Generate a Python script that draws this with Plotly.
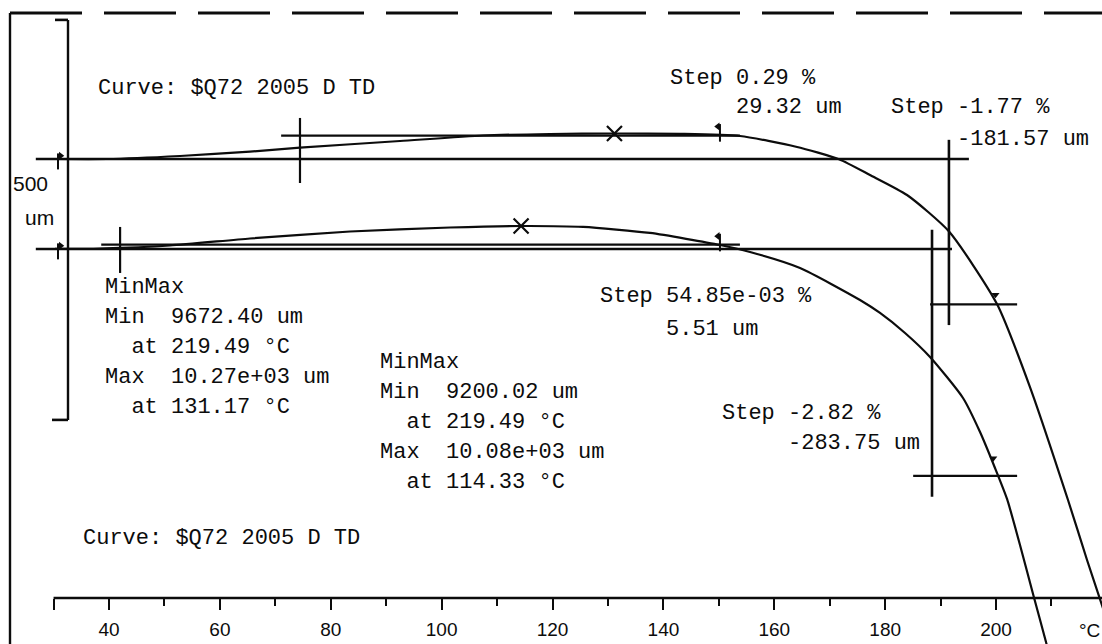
import plotly.graph_objects as go

W, H = 1102, 644

# ---------------- data (temperature in degC, dimension change in um) -------------
upper_T = [30.26, 39.64, 52.81, 65.43, 74.45, 92.49, 107.46, 119.54, 131.17, 142.99,
           153.82, 163.92, 171.67, 177.26, 183.94, 191.52, 200.17, 206.12, 212.98,
           216.41, 219.49]
upper_um = [10238.1, 10238.1, 10241.9, 10247.3, 10252.3, 10260.6, 10267.5, 10269.4,
            10270.0, 10269.6, 10266.9, 10253.5, 10237.8, 10218.1, 10193.1, 10147.5,
            10056.9, 9953.1, 9811.9, 9736.9, 9672.4]

lower_T = [30.26, 38.38, 51.00, 65.43, 83.47, 101.51, 114.33, 125.50, 137.58, 150.21,
           155.62, 164.64, 175.46, 179.07, 183.58, 188.09, 194.04, 197.11, 199.81,
           201.98, 204.32, 206.67, 209.01, 214.0, 217.0, 219.49]
lower_um = [10051.3, 10051.9, 10055.6, 10064.4, 10073.1, 10078.1, 10080.0, 10078.8,
            10071.3, 10056.3, 10047.5, 10027.5, 9987.5, 9971.3, 9946.3, 9916.3, 9865.0,
            9822.5, 9777.5, 9738.8, 9681.3, 9620.0, 9560.0, 9420.0, 9320.0, 9200.02]
lower_offset = 74.375          # display shift of the lower curve (um)

curve_name = "$Q72 2005 D TD"
upper_min = (219.49, 9672.40)
upper_max = (131.17, 10270.0)
lower_min = (219.49, 9200.02)
lower_max = (114.33, 10080.0)

# step analyses
upper_baseline = 10238.1
lower_baseline = 10051.3
upper_step1 = dict(cross=74.45, flag=150.2, um=29.32, pct="0.29")
lower_step1 = dict(cross=42.0, flag=150.2, um=5.51, pct="54.85e-03")
upper_step2 = dict(vline=191.5, flag=200.2, um=-181.57, pct="-1.77")
lower_step2 = dict(vline=188.45, flag=199.8, um=-283.75, pct="-2.82")
scale_bar_um = 500

x_ticks = [30, 40, 60, 80, 100, 120, 140, 160, 180, 200]
x_tick_text = ["", "40", "60", "80", "100", "120", "140", "160", "180", "200"]
x_minor = [50, 70, 90, 110, 130, 150, 170, 190, 210]

# ---------------- scales ---------------------------------------------------------
X_RANGE = [20.34, 219.11]
Y_RANGE = [9631.875, 10436.875]
AXIS_POS = 1 - 598 / H
INK = "#0c0c0c"
MONO = "Liberation Mono, Courier New, monospace"
SANS = "Liberation Sans, Arial, sans-serif"


def paper(px, py):
    return px / W, 1 - py / H


fig = go.Figure()

fig.add_trace(go.Scatter(x=upper_T, y=upper_um, mode="lines",
                         line=dict(color=INK, width=2.2, shape="spline", smoothing=0.6),
                         hoverinfo="skip"))
fig.add_trace(go.Scatter(x=lower_T, y=[v + lower_offset for v in lower_um], mode="lines",
                         line=dict(color=INK, width=2.2, shape="spline", smoothing=0.6),
                         hoverinfo="skip"))

# max markers
fig.add_trace(go.Scatter(x=[upper_max[0], lower_max[0]],
                         y=[upper_max[1], lower_max[1] + lower_offset],
                         mode="markers",
                         marker=dict(symbol="x-thin", size=15, line=dict(width=2.2, color=INK)),
                         hoverinfo="skip"))

shapes = []


def seg(x0, y0, x1, y1, w=2.2, xref="x", yref="y", dash=None):
    d = dict(type="line", x0=x0, y0=y0, x1=x1, y1=y1, xref=xref, yref=yref,
             line=dict(color=INK, width=w))
    if dash:
        d["line"]["dash"] = dash
    shapes.append(d)


def interp(T, U, t):
    for i in range(len(T) - 1):
        if T[i] <= t <= T[i + 1]:
            f = (t - T[i]) / (T[i + 1] - T[i])
            return U[i] + f * (U[i + 1] - U[i])
    return U[-1]


flag_x, flag_y, flag_sym = [], [], []

for base, off, s1, s2, T, U, base_end in [
        (upper_baseline, 0.0, upper_step1, upper_step2, upper_T, upper_um, 3.6),
        (lower_baseline, lower_offset, lower_step1, lower_step2, lower_T, lower_um, 3.6)]:
    b = base + off
    seg(26.8, b, s2["vline"] + base_end, b, w=2.6)
    lvl = b + s1["um"]
    seg(s1["cross"] - 3.4, lvl, s1["flag"] + 3.6, lvl, w=2.2)
    seg(s1["cross"], lvl + 22, s1["cross"], b - 30, w=2.2)
    lvl2 = b + s2["um"]
    seg(s2["vline"], b + 24, s2["vline"], lvl2 - 26, w=2.6)
    seg(s2["vline"] - 3.4, lvl2, 203.8, lvl2, w=2.2)
    seg(30.8, b + 7, 30.8, b - 13, w=2)
    flag_x.append(31.3); flag_y.append(b + 4); flag_sym.append("triangle-right")
    cy = interp(T, U, s1["flag"]) + off
    seg(s1["flag"], cy + 14, s1["flag"], cy - 8, w=2)
    flag_x.append(s1["flag"] - 0.4); flag_y.append(cy + 11); flag_sym.append("triangle-left")
    cy2 = interp(T, U, s2["flag"]) + off
    flag_x.append(s2["flag"] - 0.3); flag_y.append(cy2 + 12); flag_sym.append("triangle-down")

fig.add_trace(go.Scatter(x=flag_x, y=flag_y, mode="markers",
                         marker=dict(symbol=flag_sym, size=7, color=INK),
                         hoverinfo="skip"))

# x axis line
shapes.append(dict(type="line", xref="x", yref="paper", x0=30, x1=X_RANGE[1] + 1,
                   y0=AXIS_POS, y1=AXIS_POS, line=dict(color=INK, width=2.6)))

# scale bracket (500 um)
bx = 68 / W
top = 10412.0
seg(bx, top, bx, top - scale_bar_um, w=2.4, xref="paper")
seg(55 / W, top, bx, top, w=2.6, xref="paper")
seg(52 / W, top - scale_bar_um, bx, top - scale_bar_um, w=2.6, xref="paper")

# page frame
x0, y0 = paper(10, 13)
x1, y1 = paper(10, 644)
seg(x0, y0, x1, y1, w=2.4, xref="paper", yref="paper")
seg(x0, y0, 1.0, y0, w=3.2, xref="paper", yref="paper", dash="72px,22px")

annotations = []


def text(t, px, py, size=22, font=MONO, anchor="left"):
    ax, ay = paper(px, py)
    annotations.append(dict(text=t.replace(" ", "\u00a0"), x=ax, y=ay, xref="paper",
                            yref="paper", xanchor=anchor, yanchor="middle", showarrow=False,
                            borderpad=0, font=dict(family=font, size=size, color=INK)))


text("Curve: " + curve_name, 97, 88)
text("Curve: " + curve_name, 82, 538)

blk1 = ["MinMax",
        f"Min  {upper_min[1]:.2f} um",
        f"  at {upper_min[0]:.2f} °C",
        "Max  10.27e+03 um",
        f"  at {upper_max[0]:.2f} °C"]
for i, t in enumerate(blk1):
    text(t, 104, 287 + 30 * i)

blk2 = ["MinMax",
        f"Min  {lower_min[1]:.2f} um",
        f"  at {lower_min[0]:.2f} °C",
        "Max  10.08e+03 um",
        f"  at {lower_max[0]:.2f} °C"]
for i, t in enumerate(blk2):
    text(t, 379, 362 + 30 * i)

text(f"Step {upper_step1['pct']} %", 669, 78)
text(f"     {upper_step1['um']:.2f} um", 669, 108)
text(f"Step {upper_step2['pct']} %", 890, 108)
text(f"     {upper_step2['um']:.2f} um", 890, 140)
text(f"Step {lower_step1['pct']} %", 599, 296)
text(f"     {lower_step1['um']:.2f} um", 599, 329)
text(f"Step {lower_step2['pct']} %", 721, 413)
text(f"     {lower_step2['um']:.2f} um", 721, 443)

text("500", 12, 183, size=21, font=SANS)
text("um", 24, 218, size=21, font=SANS)
text("°C", 1078, 630, size=19, font=SANS)

fig.update_layout(
    width=W, height=H, margin=dict(l=0, r=0, t=0, b=0),
    paper_bgcolor="white", plot_bgcolor="rgba(0,0,0,0)",
    showlegend=False,
    shapes=shapes, annotations=annotations,
    xaxis=dict(range=X_RANGE, anchor="free", position=AXIS_POS, showgrid=False,
               zeroline=False, showline=False, ticks="outside", ticklen=11, tickwidth=2.2,
               tickcolor=INK, tickvals=x_ticks, ticktext=x_tick_text,
               tickfont=dict(family=SANS, size=19, color=INK),
               ticklabelstandoff=3,
               minor=dict(tickvals=x_minor, ticks="outside", ticklen=7, tickwidth=2,
                          tickcolor=INK),
               fixedrange=True),
    yaxis=dict(range=Y_RANGE, visible=False, fixedrange=True),
)

fig.write_html("out.html")
